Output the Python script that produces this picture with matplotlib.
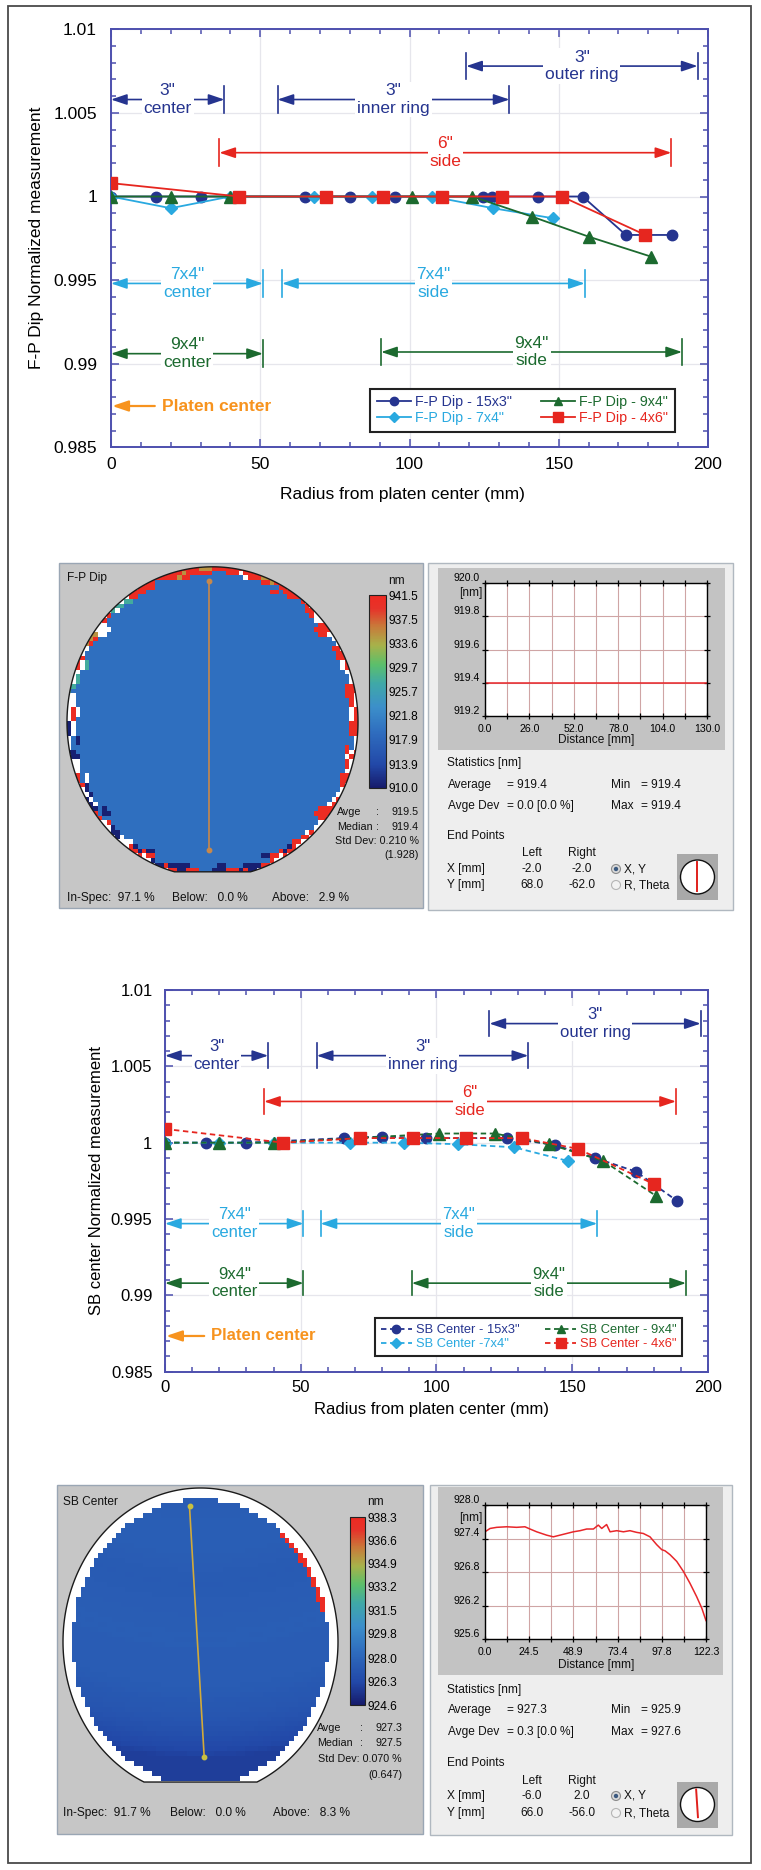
import numpy as np
import matplotlib
matplotlib.use("Agg")
import matplotlib.pyplot as plt
from matplotlib import font_manager
from matplotlib.cm import ScalarMappable
from matplotlib.colors import LinearSegmentedColormap, Normalize
from matplotlib.patches import Rectangle, Circle, Polygon
from matplotlib.ticker import MultipleLocator

W, H = 761, 1870
plt.rcParams["font.family"] = ["Liberation Sans", "DejaVu Sans"]
_installed = {f.name for f in font_manager.fontManager.ttflist}
if "Liberation Sans Narrow" in _installed:
    PANEL_FONT, PANEL_FS, PANEL_TICK_FS = ["Liberation Sans Narrow", "DejaVu Sans"], 10, 9
else:
    PANEL_FONT, PANEL_FS, PANEL_TICK_FS = ["Liberation Sans", "DejaVu Sans"], 8.6, 7.6
MAPSTAT_FS = PANEL_FS * 0.9

# ---------------- radial profiles: F-P Dip ----------------
fp_15x3_r = [0, 15, 30, 65, 80, 95, 124.5, 127.5, 143, 158, 172.5, 188]
fp_15x3_v = [1.0, 1.0, 1.0, 1.0, 1.0, 1.0, 1.0, 1.0, 1.0, 1.0, 0.9977, 0.9977]
fp_7x4_r = [0, 20, 40, 68, 87.5, 107.5, 128, 148]
fp_7x4_v = [1.0, 0.9993, 1.0, 1.0, 1.0, 1.0, 0.9993, 0.9987]
fp_9x4_r = [0, 20, 40, 101, 121, 141, 160, 181]
fp_9x4_v = [1.0, 1.0, 1.0, 1.0, 1.0, 0.9988, 0.9976, 0.9964]
fp_4x6_r = [0, 43, 72, 91, 111, 131, 151, 179]
fp_4x6_v = [1.0008, 1.0, 1.0, 1.0, 1.0, 1.0, 1.0, 0.9977]
fp_labels = ['F-P Dip - 15x3"', 'F-P Dip - 7x4"', 'F-P Dip - 9x4"', 'F-P Dip - 4x6"']

# ---------------- radial profiles: SB center ----------------
sb_15x3_r = [0, 15, 30, 66, 80, 96, 126, 143.5, 158.5, 173.5, 188.5]
sb_15x3_v = [1.0, 1.0, 1.0, 1.0003, 1.0004, 1.0003, 1.0003, 0.99985, 0.9990, 0.9981, 0.9962]
sb_7x4_r = [0, 20, 40, 68, 88, 108, 128.5, 148.5]
sb_7x4_v = [1.0, 1.0, 1.0, 1.0, 1.0, 0.9999, 0.9997, 0.9988]
sb_9x4_r = [0, 20, 40, 101, 121.5, 141.5, 161.5, 181]
sb_9x4_v = [1.0, 1.0, 1.0, 1.0006, 1.0006, 0.9999, 0.9988, 0.9965]
sb_4x6_r = [0, 43.5, 72, 91.5, 111, 131.5, 152, 180]
sb_4x6_v = [1.0009, 1.0, 1.0003, 1.0003, 1.0003, 1.0003, 0.9996, 0.9973]
sb_labels = ['SB Center - 15x3"', 'SB Center -7x4"', 'SB Center - 9x4"', 'SB Center - 4x6"']

# zone brackets: label, start radius, end radius, level
fp_zones = [('3"\ncenter', 0, 38, 1.0058), ('3"\ninner ring', 55.8, 133.5, 1.0058),
            ('3"\nouter ring', 119, 196.5, 1.0078), ('6"\nside', 36.3, 187.7, 1.00262),
            ('7x4"\ncenter', 0, 50.9, 0.9948), ('7x4"\nside', 57.3, 158.7, 0.9948),
            ('9x4"\ncenter', 0, 50.9, 0.9906), ('9x4"\nside', 90.5, 191.3, 0.9907)]
sb_zones = [('3"\ncenter', 0, 38, 1.0057), ('3"\ninner ring', 55.9, 133.8, 1.0057),
            ('3"\nouter ring', 119.5, 197.3, 1.0078), ('6"\nside', 36.5, 188.2, 1.0027),
            ('7x4"\ncenter', 0, 51, 0.9947), ('7x4"\nside', 57.3, 159.2, 0.9947),
            ('9x4"\ncenter', 0, 51, 0.9908), ('9x4"\nside', 90.9, 191.9, 0.9908)]
zone_kind = ["3in", "3in", "3in", "6in", "7x4", "7x4", "9x4", "9x4"]
fp_platen_level = 0.98747
sb_platen_level = 0.98734

y_ticks = [0.985, 0.99, 0.995, 1.0, 1.005, 1.01]
y_tick_labels = ["0.985", "0.99", "0.995", "1", "1.005", "1.01"]

# ---------------- wafer maps ----------------
fp_map_level = 919.4
# edge-site codes around the rim, 5 degree sectors counter-clockwise from +X
fp_edge_outer = ("RWRWRRWRWRR" "RRORRRRORRRRRR" "WGRWOWRWGWW"
                 "BWBWRWBRWBW" "RWBRBBRBBRBRWR" "WRWRRWRWRWR")
fp_edge_mid = ("WRRNWRNRWRN" "RNRRWRNRRORNRR" "GWNWRNWGNWR"
               "WNBWNBWNRBW" "BRNBBRNBRBBNRB" "RWNRWNRRWNR")
fp_edge_inner = ("NNRNNNNRNNN" "NRNNNNNNNRNNNN" "NNNWNNGNNNW"
                 "NBNNWNNBNNN" "NBNNBNNBNNNBNN" "NNNRNNNNRNN")
fp_cbar_ticks = [910.0, 913.9, 917.9, 921.8, 925.7, 929.7, 933.6, 937.5, 941.5]
sb_cbar_ticks = [924.6, 926.3, 928.0, 929.8, 931.5, 933.2, 934.9, 936.6, 938.3]
sb_edge_level = 938.0

# line scans
fp_prof_d = [0, 130]
fp_prof_v = [919.4, 919.4]
sb_prof_d = [0, 2.8, 6.5, 12, 17.5, 22.1, 24.9, 28.6, 34.1, 37.8, 41.5, 45.2, 48.9, 52.6,
             56.3, 60, 62.7, 64.6, 67.3, 69.2, 72.9, 76.6, 80.2, 83.9, 87.6, 91.3, 95, 97.8,
             99.6, 102.4, 106.1, 109.8, 113.4, 117.1, 120, 122.3]
sb_prof_v = [927.52, 927.58, 927.60, 927.61, 927.60, 927.61, 927.57, 927.52, 927.46, 927.43,
             927.46, 927.49, 927.52, 927.54, 927.57, 927.57, 927.64, 927.58, 927.65, 927.52,
             927.54, 927.52, 927.54, 927.51, 927.49, 927.43, 927.29, 927.20, 927.18, 927.11,
             926.99, 926.81, 926.60, 926.36, 926.15, 925.93]
fp_end_x, fp_end_y = [-2.0, -2.0], [68.0, -62.0]
sb_end_x, sb_end_y = [-6.0, 2.0], [66.0, -56.0]

fp_stats = {"avg": "919.4", "dev": "0.0 [0.0 %]", "min": "919.4", "max": "919.4"}
sb_stats = {"avg": "927.3", "dev": "0.3 [0.0 %]", "min": "925.9", "max": "927.6"}
fp_summary = ["97.1 %", "0.0 %", "2.9 %"]
sb_summary = ["91.7 %", "0.0 %", "8.3 %"]
fp_map_stats = ["919.5", "919.4", "0.210 %", "(1.928)"]
sb_map_stats = ["927.3", "927.5", "0.070 %", "(0.647)"]

# ---------------- colours ----------------
BLUE, CYAN, GREEN, RED, ORANGE = "#25348f", "#29a9e0", "#1c6a2f", "#e6261f", "#f7931e"
AXIS = "#4d4fae"
zone_color = {"3in": BLUE, "6in": RED, "7x4": CYAN, "9x4": GREEN}
thk_cmap = LinearSegmentedColormap.from_list("thk", [
    (0.0, "#161b6b"), (0.12, "#2248a8"), (0.30, "#3070c0"), (0.42, "#3c8fca"),
    (0.54, "#3fa8a8"), (0.64, "#5bbf6b"), (0.74, "#a7b24a"), (0.84, "#c9793a"),
    (0.93, "#e6332a"), (1.0, "#ee2a22")])
thk_cmap.set_bad((0, 0, 0, 0))

fig = plt.figure(figsize=(W / 100, H / 100), dpi=100)


def px_axes(x0, y0, x1, y1):
    return fig.add_axes([x0 / W, 1 - y1 / H, (x1 - x0) / W, (y1 - y0) / H])


bg = px_axes(0, 0, W, H)
bg.set_zorder(-1)
bg.axis("off")
bg.add_patch(Rectangle((8, 6), 743, 1857, fill=False, ec="#4a4a4a", lw=1.3))


def radial_chart(box, series, zones, platen_y, ylabel, fs, leg_fs, leg_anchor, ls,
                 ylab_x, xlab_xy, ypad, xpad):
    ax = px_axes(*box)
    for r, v, label, color, marker, ms in series:
        ax.plot(r, v, ls=ls, lw=1.3, color=color, marker=marker, ms=ms, mec=color,
                mfc=color, label=label, zorder=6)
    ax.set_xlim(0, 200)
    ax.set_ylim(0.985, 1.01)
    ax.xaxis.set_major_locator(MultipleLocator(50))
    ax.xaxis.set_minor_locator(MultipleLocator(10))
    ax.set_yticks(y_ticks, y_tick_labels)
    ax.yaxis.set_minor_locator(MultipleLocator(0.001))
    ax.tick_params(which="both", direction="in", top=True, right=True, color=AXIS,
                   labelsize=fs, width=1.1)
    ax.tick_params(which="major", length=6)
    ax.tick_params(which="minor", length=3.5)
    ax.tick_params(axis="y", pad=ypad)
    ax.tick_params(axis="x", pad=xpad)
    for s in ax.spines.values():
        s.set_color(AXIS)
        s.set_linewidth(1.4)
    ax.grid(which="major", color="#e6e6ec", lw=0.9)
    ax.set_axisbelow(True)

    bar = 0.0008
    for (label, x0, x1, y), kind in zip(zones, zone_kind):
        c = zone_color[kind]
        ax.annotate("", xy=(x1, y), xytext=(x0, y), zorder=3,
                    arrowprops=dict(arrowstyle="<|-|>,head_length=0.8,head_width=0.27",
                                    color=c, lw=1.2, shrinkA=0, shrinkB=0,
                                    mutation_scale=12))
        for xb in (x0, x1):
            if xb > 0:
                ax.plot([xb, xb], [y - bar, y + bar], color=c, lw=1.2, zorder=3)
        ax.text((x0 + x1) / 2, y, label, ha="center", va="center", color=c,
                fontsize=fs, linespacing=1.2, zorder=4,
                bbox=dict(fc="white", ec="none", pad=1.2))

    ax.annotate("Platen center", xy=(0.4, platen_y), xytext=(17, platen_y),
                ha="left", va="center", color=ORANGE, fontsize=fs, fontweight="bold",
                arrowprops=dict(arrowstyle="-|>,head_length=0.8,head_width=0.27",
                                color=ORANGE, lw=1.6, shrinkA=3, shrinkB=0,
                                mutation_scale=12))

    leg = ax.legend(loc="lower right", bbox_to_anchor=leg_anchor, ncol=2, fontsize=leg_fs,
                    frameon=True, fancybox=False, edgecolor="#222222", framealpha=1,
                    labelcolor="linecolor", handlelength=2.4, handletextpad=0.3,
                    columnspacing=2.0, labelspacing=0.15, borderpad=0.45,
                    markerscale=0.8, borderaxespad=0)
    leg.get_frame().set_linewidth(1.5)

    ax.set_ylabel(ylabel, fontsize=fs)
    ax.yaxis.set_label_coords(ylab_x, 0.5)
    ax.set_xlabel("Radius from platen center (mm)", fontsize=fs)
    ax.xaxis.set_label_coords(*xlab_xy)
    return ax


radial_chart((111, 29.3, 708, 447.3),
             [(fp_15x3_r, fp_15x3_v, fp_labels[0], BLUE, "o", 7.5),
              (fp_7x4_r, fp_7x4_v, fp_labels[1], CYAN, "D", 6),
              (fp_9x4_r, fp_9x4_v, fp_labels[2], GREEN, "^", 8),
              (fp_4x6_r, fp_4x6_v, fp_labels[3], RED, "s", 9)],
             fp_zones, fp_platen_level, "F-P Dip Normalized measurement",
             12.5, 10.3, (0.944, 0.037), "-", -0.112, (0.488, -0.095), 10, 7)

radial_chart((165, 990, 708, 1371.7),
             [(sb_15x3_r, sb_15x3_v, sb_labels[0], BLUE, "o", 7.5),
              (sb_7x4_r, sb_7x4_v, sb_labels[1], CYAN, "D", 6),
              (sb_9x4_r, sb_9x4_v, sb_labels[2], GREEN, "^", 8),
              (sb_4x6_r, sb_4x6_v, sb_labels[3], RED, "s", 9)],
             sb_zones, sb_platen_level, "SB center Normalized measurement",
             12, 9.3, (0.953, 0.041), (0, (3, 2)), -0.112, (0.491, -0.079), 9, 6)


# ---------------- wafer map panels ----------------
def wafer_outline(cx, cy, a, b, flat):
    t0 = np.arcsin(-flat)
    t = np.linspace(t0, np.pi - t0, 400)
    return np.column_stack([cx + a * np.cos(t), cy - b * np.sin(t)])


def wafer_grid(n):
    c = (np.arange(n) + 0.5) / n * 2 - 1
    U, V = np.meshgrid(c, -c)
    return U, V


def draw_wafer(geom, values, vmin, vmax, end_x, end_y, line_color, dot_color):
    cx, cy, a, b, flat = geom
    pts = wafer_outline(cx, cy, a, b, flat)
    face = Polygon(pts, closed=True, fc="white", ec="none", zorder=1)
    bg.add_patch(face)
    im = bg.imshow(values, cmap=thk_cmap, vmin=vmin, vmax=vmax, aspect="auto",
                   extent=(cx - a, cx + a, cy + b, cy - b), interpolation="nearest",
                   zorder=2)
    im.set_clip_path(face)
    bg.add_patch(Polygon(pts, closed=True, fill=False, ec="#1a1a1a", lw=1.0, zorder=3))
    lx = [cx + x * a / 75 for x in end_x]
    ly = [cy - y * b / 75 for y in end_y]
    bg.plot(lx, ly, color=line_color, lw=1.2, zorder=4)
    bg.plot(lx, ly, ls="none", marker="o", ms=3.2, color=dot_color, zorder=4)


def colorbar(box, vmin, vmax, ticks):
    cax = px_axes(*box)
    cb = fig.colorbar(ScalarMappable(norm=Normalize(vmin, vmax), cmap=thk_cmap), cax=cax)
    cb.set_ticks(ticks, labels=[f"{t:.1f}" for t in ticks])
    cb.outline.set_linewidth(0.8)
    cb.outline.set_edgecolor("#222222")
    cax.tick_params(length=0, pad=1.5, labelsize=PANEL_FS)
    for lab in cax.get_yticklabels():
        lab.set_fontfamily(PANEL_FONT)


def ptext(x, y, s, ha="left", size=None):
    bg.text(x, y, s, ha=ha, va="center", fontsize=size or PANEL_FS,
            fontfamily=PANEL_FONT, color="#111111", zorder=5)


def map_stats(x_left, x_colon, x_right, rows, vals):
    y_avg, y_med, y_std, y_par = rows
    ptext(x_left, y_avg, "Avge", size=MAPSTAT_FS)
    ptext(x_colon, y_avg, ":", size=MAPSTAT_FS)
    ptext(x_right, y_avg, vals[0], ha="right", size=MAPSTAT_FS)
    ptext(x_left, y_med, "Median", size=MAPSTAT_FS)
    ptext(x_colon, y_med, ":", size=MAPSTAT_FS)
    ptext(x_right, y_med, vals[1], ha="right", size=MAPSTAT_FS)
    ptext(x_right, y_std, "Std Dev: " + vals[2], ha="right", size=MAPSTAT_FS)
    ptext(x_right, y_par, vals[3], ha="right", size=MAPSTAT_FS)


def profile_plot(box, xmax, ylo, yhi, ystep, dist, vals):
    ax = px_axes(*box)
    ax.plot(dist, vals, color="#e8262a", lw=1.1)
    ax.set_xlim(0, xmax)
    ax.set_ylim(ylo, yhi)
    xt = np.linspace(0, xmax, 6)
    ax.set_xticks(xt, [f"{v:.1f}" for v in xt])
    ax.set_xticks(np.linspace(0, xmax, 11), minor=True)
    yt = np.arange(ylo, yhi + ystep / 2, ystep)
    ax.set_yticks(yt, [f"{v:.1f}" for v in yt])
    ax.grid(which="both", color="#cfa5a5", lw=0.8)
    ax.tick_params(which="both", direction="inout", length=5, top=True, right=True,
                   color="black", labelsize=PANEL_TICK_FS, width=0.9)
    ax.tick_params(axis="y", pad=1.5)
    ax.tick_params(axis="x", pad=3)
    for lab in ax.get_xticklabels() + ax.get_yticklabels():
        lab.set_fontfamily(PANEL_FONT)
    for lab in ax.get_yticklabels():
        lab.set_verticalalignment("bottom")
    for s in ax.spines.values():
        s.set_linewidth(1.0)
        s.set_color("black")
    return ax


def stats_panel(stats, ends_x, ends_y, rows):
    (y_stat, y_avg, y_dev, y_end, y_lr, y_x, y_y) = rows
    ptext(447, y_stat, "Statistics [nm]")
    ptext(448, y_avg, "Average")
    ptext(507, y_avg, "= " + stats["avg"])
    ptext(448, y_dev, "Avge Dev")
    ptext(507, y_dev, "= " + stats["dev"])
    ptext(611, y_avg, "Min")
    ptext(641, y_avg, "= " + stats["min"])
    ptext(611, y_dev, "Max")
    ptext(641, y_dev, "= " + stats["max"])
    ptext(447, y_end, "End Points")
    ptext(532, y_lr, "Left", ha="center")
    ptext(582, y_lr, "Right", ha="center")
    ptext(447, y_x, "X [mm]")
    ptext(447, y_y, "Y [mm]")
    ptext(532, y_x, f"{ends_x[0]:.1f}", ha="center")
    ptext(582, y_x, f"{ends_x[1]:.1f}", ha="center")
    ptext(532, y_y, f"{ends_y[0]:.1f}", ha="center")
    ptext(582, y_y, f"{ends_y[1]:.1f}", ha="center")
    bg.add_patch(Circle((616, y_x), 4.5, fc="#dadada", ec="#8c8c8c", lw=0.8, zorder=5))
    bg.add_patch(Circle((616, y_x), 2.2, fc="#3c5a80", ec="none", zorder=6))
    bg.add_patch(Circle((616, y_y), 4.5, fc="#f2f2f2", ec="#b5b5b5", lw=0.8, zorder=5))
    ptext(624, y_x, "X, Y")
    ptext(624, y_y, "R, Theta")
    # small wafer locator icon
    icx, icy = 697.5, (y_x + y_y) / 2
    bg.add_patch(Rectangle((677, icy - 23), 41, 46, fc="#a9a9a9", ec="none", zorder=5))
    bg.add_patch(Circle((icx, icy), 17, fc="white", ec="#111111", lw=1.0, zorder=6))
    bg.plot([icx + x * 17 / 75 for x in ends_x], [icy - y * 17 / 75 for y in ends_y],
            color="#e0201c", lw=1.4, zorder=7)


# ---- F-P Dip map ----
FP_GEOM = (212.5, 722.0, 145.5, 155.2, 0.9653)
U1, V1 = wafer_grid(66)
R1 = np.hypot(U1, V1)
S1 = (np.degrees(np.arctan2(V1, U1)) % 360 // 5).astype(int)
edge_level = {"R": 941.0, "O": 935.0, "G": 927.5, "B": 910.5, "W": np.nan, "N": fp_map_level}
map1 = np.full(U1.shape, np.nan)
map1[R1 < 0.925] = fp_map_level
for lo, hi, codes in [(0.925, 0.95, fp_edge_inner), (0.95, 0.975, fp_edge_mid),
                      (0.975, 1.005, fp_edge_outer)]:
    ring = (R1 >= lo) & (R1 < hi)
    map1[ring] = [edge_level[c] for c in np.array(list(codes))[S1[ring]]]

bg.add_patch(Rectangle((59, 563), 364, 345, fc="#c6c6c6", ec="#9aa6b4", lw=1.0, zorder=0))
draw_wafer(FP_GEOM, map1, fp_cbar_ticks[0], fp_cbar_ticks[-1], fp_end_x, fp_end_y,
           "#c8884a", "#c8884a")
colorbar((369, 595, 386, 788), fp_cbar_ticks[0], fp_cbar_ticks[-1], fp_cbar_ticks)
ptext(67, 578, "F-P Dip")
ptext(396, 581, "nm", ha="center")
map_stats(337, 376, 419, (812, 827, 841, 855), fp_map_stats)
ptext(67, 898, "In-Spec:  " + fp_summary[0])
ptext(172, 898, "Below:   " + fp_summary[1])
ptext(272, 898, "Above:   " + fp_summary[2])

bg.add_patch(Rectangle((428, 563), 305, 347, fc="#eeeeee", ec="#b0b8c0", lw=1.0, zorder=0))
bg.add_patch(Rectangle((438, 568), 287, 182, fc="#c3c3c3", ec="none", zorder=0.5))
profile_plot((485, 583, 707, 716), 130.0, 919.2, 920.0, 0.2, fp_prof_d, fp_prof_v)
ptext(482, 593, "[nm]", ha="right")
ptext(596, 740, "Distance [mm]", ha="center")
stats_panel(fp_stats, fp_end_x, fp_end_y, (763, 785, 806, 836, 853, 869, 885))

# ---- SB center map ----
SB_GEOM = (200.5, 1641.8, 137.5, 153.8, 0.9117)
U2, V2 = wafer_grid(62)
R2 = np.hypot(U2, V2)
A2 = np.degrees(np.arctan2(V2, U2)) % 360
scan = np.hypot(U2 * 75, V2 * 75 - 200) - 134
map2 = np.full(U2.shape, np.nan)
inside2 = (R2 < 0.93) & (V2 > -SB_GEOM[4])
map2[inside2] = np.interp(scan[inside2], sb_prof_d, sb_prof_v)
hot = (R2 >= 0.895) & (R2 < 0.93) & (A2 >= 12) & (A2 <= 52)
map2[hot] = sb_edge_level

bg.add_patch(Rectangle((57, 1485), 366, 349, fc="#c6c6c6", ec="#9aa6b4", lw=1.0, zorder=0))
draw_wafer(SB_GEOM, map2, sb_cbar_ticks[0], sb_cbar_ticks[-1], sb_end_x, sb_end_y,
           "#d2aa3a", "#c8c040")
colorbar((350, 1517, 365, 1705), sb_cbar_ticks[0], sb_cbar_ticks[-1], sb_cbar_ticks)
ptext(63, 1502, "SB Center")
ptext(375, 1502, "nm", ha="center")
map_stats(317, 360, 402, (1728, 1743, 1759, 1775), sb_map_stats)
ptext(63, 1813, "In-Spec:  " + sb_summary[0])
ptext(170, 1813, "Below:   " + sb_summary[1])
ptext(273, 1813, "Above:   " + sb_summary[2])

bg.add_patch(Rectangle((430, 1485), 302, 350, fc="#eeeeee", ec="#b0b8c0", lw=1.0, zorder=0))
bg.add_patch(Rectangle((438, 1487), 285, 188, fc="#c3c3c3", ec="none", zorder=0.5))
profile_plot((485, 1505, 706, 1639), 122.3, 925.6, 928.0, 0.6, sb_prof_d, sb_prof_v)
ptext(482, 1518, "[nm]", ha="right")
ptext(596, 1665, "Distance [mm]", ha="center")
stats_panel(sb_stats, sb_end_x, sb_end_y, (1690, 1710, 1732, 1763, 1781, 1796, 1813))

bg.set_xlim(0, W)
bg.set_ylim(H, 0)
fig.savefig("out.png", dpi=100)
